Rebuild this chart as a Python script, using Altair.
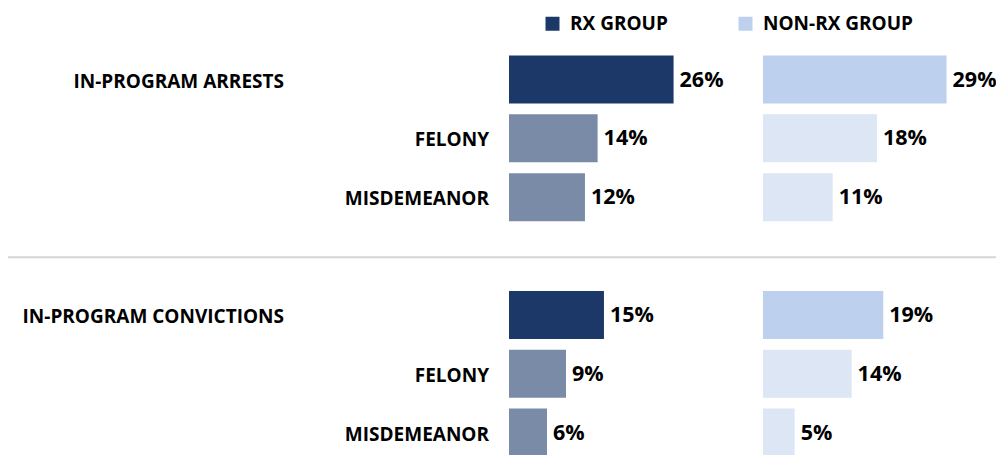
import altair as alt
import pandas as pd

# ---- data ----
categories = ["In-Program Arrests", "Felony", "Misdemeanor",
              "In-Program Convictions", "Felony", "Misdemeanor"]
levels = ["main", "sub", "sub", "main", "sub", "sub"]
sections = [0, 0, 0, 1, 1, 1]
items = [0, 1, 2, 0, 1, 2]
rx_values = [26, 14, 12, 15, 9, 6]
nonrx_values = [29, 18, 11, 19, 14, 5]
groups = ["Rx Group", "Non-Rx Group"]

NAVY = "#1C3868"
LIGHT = "#BDD1EE"
NAVY_PAT = "#7A8BA8"
LIGHT_PAT = "#DCE6F5"
FONT = "Open Sans"

recs = []
for i in range(len(categories)):
    for g, vals in zip(groups, [rx_values, nonrx_values]):
        recs.append(dict(category=categories[i], level=levels[i],
                         section=sections[i], item=items[i], group=g,
                         value=vals[i],
                         series=g if levels[i] == "main" else g + " detail"))
df = pd.DataFrame(recs)

W, H = 988, 447
PX = 6.33  # pixels per percentage point

base = alt.Chart(df).transform_calculate(
    row="datum.section * 4 + datum.item",
    label="upper(datum.category)",
    pct="datum.value + '%'",
    zero="0",
)

YSCALE = alt.Scale(domain=[-1.13, (H - 68) / 60.2], reverse=True, nice=False, zero=False)
Y = alt.Y("row:Q", axis=None, scale=YSCALE)

color_scale = alt.Scale(
    domain=["Rx Group", "Non-Rx Group", "Rx Group detail", "Non-Rx Group detail"],
    range=[NAVY, LIGHT, NAVY_PAT, LIGHT_PAT])

legend = alt.Legend(orient="none", legendX=535, legendY=6, direction="horizontal",
                    title=None, values=groups, labelExpr="upper(datum.label)",
                    symbolType="square", symbolSize=196, symbolStrokeWidth=0,
                    labelFont=FONT, labelFontSize=19, labelFontWeight="bold",
                    labelColor="black", columnPadding=68, labelOffset=8, padding=0)


def group_layers(g, zero_px):
    dom = [-zero_px / PX, (W - zero_px) / PX]
    b = base.transform_filter(alt.datum.group == g)
    X = alt.X("value:Q", axis=None,
              scale=alt.Scale(domain=dom, nice=False, zero=False))
    bars = b.mark_bar(orient="horizontal", size=48).encode(
        x=X, x2="zero:Q", y=Y,
        color=alt.Color("series:N", scale=color_scale, legend=legend))
    text = b.mark_text(align="left", baseline="middle", dx=6, dy=1, font=FONT,
                       fontWeight="bold", fontSize=21.5, color="black").encode(
        x=X, y=Y, text="pct:N")
    return [bars, text]


# separator sits in the empty slot just before the second section
sep = base.transform_filter(
    (alt.datum.group == "Rx Group") & (alt.datum.section == 1) & (alt.datum.item == 0)
).transform_calculate(sep_row="datum.row - 0.98").mark_rule(
    color="#D6D6D6", strokeWidth=2).encode(
    y=alt.Y("sep_row:Q", axis=None, scale=YSCALE),
    x=alt.value(0), x2=alt.value(W))

labels = base.transform_filter(alt.datum.group == "Rx Group").mark_text(
    align="right", baseline="middle", dy=2, font=FONT, fontWeight="bold",
    fontSize=19, color="black").encode(
    x=alt.X("level:N", axis=None,
            scale=alt.Scale(type="point", domain=["main", "sub"],
                            range=[276, 481], padding=0)),
    y=Y, text="label:N")

chart = alt.layer(
    sep, *group_layers("Rx Group", 501), *group_layers("Non-Rx Group", 755), labels
).resolve_scale(x="independent").properties(
    width=W, height=H, padding=0,
    autosize=alt.AutoSizeParams(type="none"),
).configure_view(stroke=None)

chart.save("out.html", embed_options={"renderer": "svg", "actions": False})
